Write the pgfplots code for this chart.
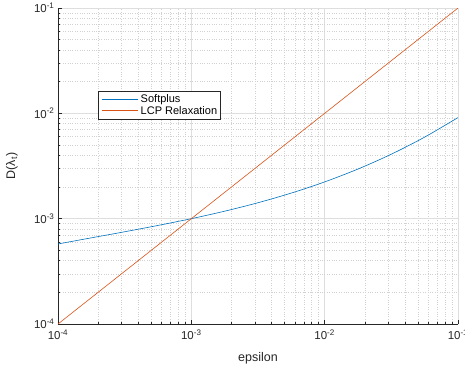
\documentclass[border=0pt]{standalone}
\usepackage{pgfplots}
\pgfplotsset{compat=1.18}
\usepackage{fontspec}
\setmainfont{Liberation Sans}
\usetikzlibrary{calc}
\definecolor{mblue}{RGB}{0,114,189}
\definecolor{morange}{RGB}{217,83,25}
\definecolor{mgray}{RGB}{38,38,38}
\begin{document}
\begin{tikzpicture}
\begin{axis}[
  name=ax,
  scale only axis,
  width=400pt, height=316pt,
  xmode=log, ymode=log,
  xmin=1e-4, xmax=1e-1, ymin=1e-4, ymax=1e-1,
  axis lines*=left,
  axis line style={-, color=mgray, line width=0.5pt},
  tick align=inside,
  major tick length=4pt, minor tick length=2pt,
  tick style={color=mgray, line width=0.5pt},
  xtick={1e-4,1e-3,1e-2,1e-1},
  xticklabels={10\textsuperscript{-4},10\textsuperscript{-3},10\textsuperscript{-2},10\textsuperscript{-1}},
  ytick={1e-4,1e-3,1e-2,1e-1},
  yticklabels={10\textsuperscript{-4},10\textsuperscript{-3},10\textsuperscript{-2},10\textsuperscript{-1}},
  ticklabel style={font=\fontsize{11.5}{13}\selectfont, text=mgray},
  xticklabel style={yshift=-2pt},
  grid=both,
  major grid style={solid, color=black!13, line width=0.5pt},
  minor grid style={dotted, color=black!18, line width=0.5pt},
  xlabel={epsilon},
  ylabel={D(λ\textsubscript{t})},
  label style={font=\fontsize{12.5}{14}\selectfont, text=mgray},
  xlabel style={at={(axis description cs:0.5,-0.108)}, anchor=center},
  ylabel style={at={(axis description cs:-0.115,0.5)}, anchor=center},
  legend style={at={(0.1,0.737)}, anchor=north west, draw=mgray, line width=0.5pt,
    font=\fontsize{11}{13}\selectfont, inner sep=1.5pt, row sep=-2pt, column sep=0pt},
  legend cell align=left,
  legend image code/.code={},
]
\addplot[color=mblue, line width=0.6pt, smooth] coordinates {
(1e-4,5.754e-4) (1.778e-4,6.578e-4) (3.162e-4,7.513e-4) (5.623e-4,8.627e-4)
(1e-3,1.0e-3) (1.778e-3,1.178e-3) (3.162e-3,1.417e-3) (5.623e-3,1.751e-3)
(1e-2,2.234e-3) (1.778e-2,2.960e-3) (3.162e-2,4.095e-3) (5.623e-2,5.947e-3)
(1e-1,9.12e-3)};
\addlegendentry{{\color{mblue}\rule[0.33em]{36pt}{0.7pt}}\hspace{3pt}Softplus}
\addplot[color=morange, line width=0.6pt] coordinates {(1e-4,1e-4) (1e-1,1e-1)};
\addlegendentry{{\color{morange}\rule[0.33em]{36pt}{0.7pt}}\hspace{3pt}LCP Relaxation}
\end{axis}
\pgfresetboundingbox
\path ($(ax.south west)+(-58pt,-47pt)$) rectangle ($(ax.north east)+(7pt,8pt)$);
\end{tikzpicture}
\end{document}
